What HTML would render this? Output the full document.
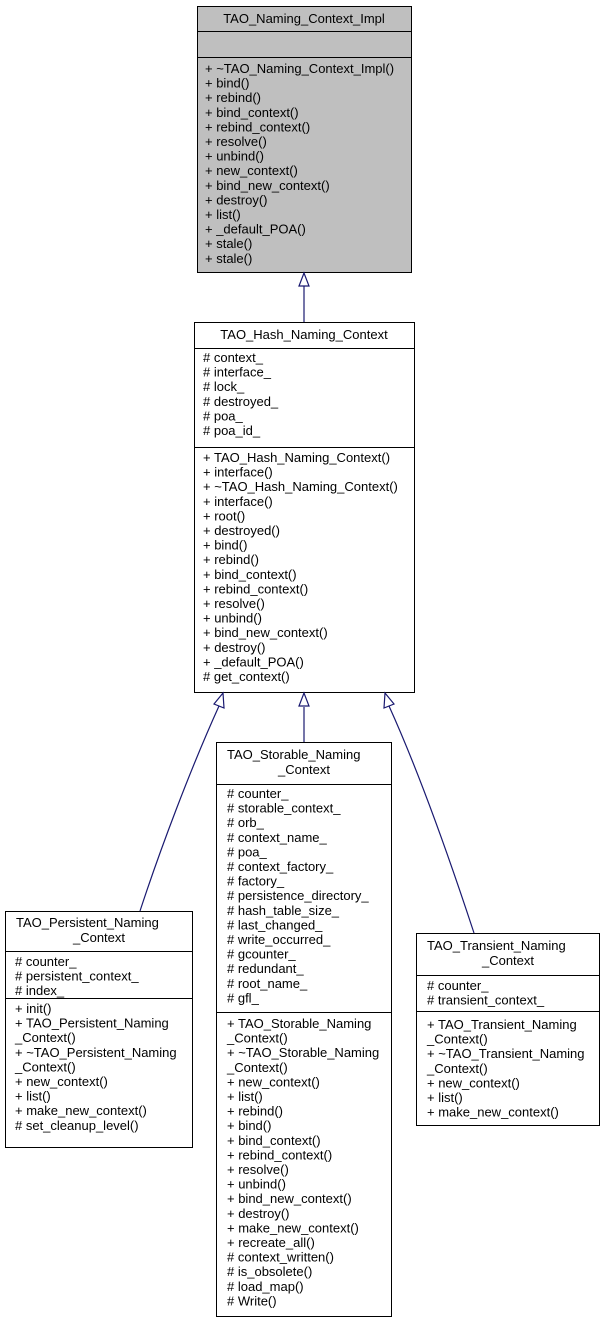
<!DOCTYPE html>
<html><head><meta charset="utf-8"><style>
html,body{margin:0;padding:0;background:#fff;}
svg text{font-family:"Liberation Sans",Arial,sans-serif;font-size:13px;fill:#000;}
</style></head><body>
<svg width="604" height="1323" viewBox="0 0 604 1323" xmlns="http://www.w3.org/2000/svg">
<g stroke="#000" stroke-width="1">
<rect x="197.5" y="6.5" width="214" height="266" fill="#bfbfbf"/>
<line x1="197.5" y1="31.5" x2="411.5" y2="31.5"/>
<line x1="197.5" y1="57.5" x2="411.5" y2="57.5"/>
<rect x="194.5" y="322.5" width="220" height="370" fill="#fff"/>
<line x1="194.5" y1="348.5" x2="414.5" y2="348.5"/>
<line x1="194.5" y1="447.5" x2="414.5" y2="447.5"/>
<rect x="216.5" y="742.5" width="175" height="574" fill="#fff"/>
<line x1="216.5" y1="784.5" x2="391.5" y2="784.5"/>
<line x1="216.5" y1="1012.5" x2="391.5" y2="1012.5"/>
<rect x="5.5" y="911.5" width="187" height="236" fill="#fff"/>
<line x1="5.5" y1="951.5" x2="192.5" y2="951.5"/>
<line x1="5.5" y1="998.5" x2="192.5" y2="998.5"/>
<rect x="416.5" y="933.5" width="183" height="192" fill="#fff"/>
<line x1="416.5" y1="975.5" x2="599.5" y2="975.5"/>
<line x1="416.5" y1="1011.5" x2="599.5" y2="1011.5"/>
</g>
<g stroke="#191970" stroke-width="1.2" fill="none">
<line x1="304" y1="286" x2="304" y2="322"/>
<line x1="304" y1="707" x2="304" y2="742"/>
<path d="M219,706 C190,770 160,850 140,911"/>
<path d="M389,706 C418,770 450,860 474,933"/>
</g>
<g stroke="#191970" stroke-width="1.2" fill="#fff">
<polygon points="304,273 299,286 309,286"/>
<polygon points="304,693 299,706 309,706"/>
<polygon points="223,693 214,704 224,708"/>
<polygon points="385,693 384,708 394,704"/>
</g>
<text x="304" y="23" text-anchor="middle">TAO_Naming_Context_Impl</text>
<g>
<text x="205" y="73">+ ~TAO_Naming_Context_Impl()</text>
<text x="205" y="87.6">+ bind()</text>
<text x="205" y="102.2">+ rebind()</text>
<text x="205" y="116.8">+ bind_context()</text>
<text x="205" y="131.4">+ rebind_context()</text>
<text x="205" y="146">+ resolve()</text>
<text x="205" y="160.6">+ unbind()</text>
<text x="205" y="175.2">+ new_context()</text>
<text x="205" y="189.8">+ bind_new_context()</text>
<text x="205" y="204.4">+ destroy()</text>
<text x="205" y="219">+ list()</text>
<text x="205" y="233.6">+ _default_POA()</text>
<text x="205" y="248.2">+ stale()</text>
<text x="205" y="262.8">+ stale()</text>
</g>
<text x="304" y="339" text-anchor="middle">TAO_Hash_Naming_Context</text>
<g>
<text x="203" y="362"># context_</text>
<text x="203" y="376.6"># interface_</text>
<text x="203" y="391.2"># lock_</text>
<text x="203" y="405.8"># destroyed_</text>
<text x="203" y="420.4"># poa_</text>
<text x="203" y="435"># poa_id_</text>
<text x="203" y="462">+ TAO_Hash_Naming_Context()</text>
<text x="203" y="476.6">+ interface()</text>
<text x="203" y="491.2">+ ~TAO_Hash_Naming_Context()</text>
<text x="203" y="505.8">+ interface()</text>
<text x="203" y="520.4">+ root()</text>
<text x="203" y="535">+ destroyed()</text>
<text x="203" y="549.6">+ bind()</text>
<text x="203" y="564.2">+ rebind()</text>
<text x="203" y="578.8">+ bind_context()</text>
<text x="203" y="593.4">+ rebind_context()</text>
<text x="203" y="608">+ resolve()</text>
<text x="203" y="622.6">+ unbind()</text>
<text x="203" y="637.2">+ bind_new_context()</text>
<text x="203" y="651.8">+ destroy()</text>
<text x="203" y="666.4">+ _default_POA()</text>
<text x="203" y="681"># get_context()</text>
</g>
<text x="227" y="759">TAO_Storable_Naming</text>
<text x="304" y="774" text-anchor="middle">_Context</text>
<g>
<text x="227" y="798"># counter_</text>
<text x="227" y="812.6"># storable_context_</text>
<text x="227" y="827.2"># orb_</text>
<text x="227" y="841.8"># context_name_</text>
<text x="227" y="856.4"># poa_</text>
<text x="227" y="871"># context_factory_</text>
<text x="227" y="885.6"># factory_</text>
<text x="227" y="900.2"># persistence_directory_</text>
<text x="227" y="914.8"># hash_table_size_</text>
<text x="227" y="929.4"># last_changed_</text>
<text x="227" y="944"># write_occurred_</text>
<text x="227" y="958.6"># gcounter_</text>
<text x="227" y="973.2"># redundant_</text>
<text x="227" y="987.8"># root_name_</text>
<text x="227" y="1002.4"># gfl_</text>
<text x="227" y="1028">+ TAO_Storable_Naming</text>
<text x="227" y="1042.6">_Context()</text>
<text x="227" y="1057.2">+ ~TAO_Storable_Naming</text>
<text x="227" y="1071.8">_Context()</text>
<text x="227" y="1086.4">+ new_context()</text>
<text x="227" y="1101">+ list()</text>
<text x="227" y="1115.6">+ rebind()</text>
<text x="227" y="1130.2">+ bind()</text>
<text x="227" y="1144.8">+ bind_context()</text>
<text x="227" y="1159.4">+ rebind_context()</text>
<text x="227" y="1174">+ resolve()</text>
<text x="227" y="1188.6">+ unbind()</text>
<text x="227" y="1203.2">+ bind_new_context()</text>
<text x="227" y="1217.8">+ destroy()</text>
<text x="227" y="1232.4">+ make_new_context()</text>
<text x="227" y="1247">+ recreate_all()</text>
<text x="227" y="1261.6"># context_written()</text>
<text x="227" y="1276.2"># is_obsolete()</text>
<text x="227" y="1290.8"># load_map()</text>
<text x="227" y="1305.4"># Write()</text>
</g>
<text x="16" y="927">TAO_Persistent_Naming</text>
<text x="99" y="942" text-anchor="middle">_Context</text>
<g>
<text x="15" y="966"># counter_</text>
<text x="15" y="980.6"># persistent_context_</text>
<text x="15" y="995.2"># index_</text>
<text x="15" y="1013">+ init()</text>
<text x="15" y="1027.6">+ TAO_Persistent_Naming</text>
<text x="15" y="1042.2">_Context()</text>
<text x="15" y="1056.8">+ ~TAO_Persistent_Naming</text>
<text x="15" y="1071.4">_Context()</text>
<text x="15" y="1086">+ new_context()</text>
<text x="15" y="1100.6">+ list()</text>
<text x="15" y="1115.2">+ make_new_context()</text>
<text x="15" y="1129.8"># set_cleanup_level()</text>
</g>
<text x="427" y="950">TAO_Transient_Naming</text>
<text x="508" y="965" text-anchor="middle">_Context</text>
<g>
<text x="427" y="990"># counter_</text>
<text x="427" y="1004.6"># transient_context_</text>
<text x="427" y="1029">+ TAO_Transient_Naming</text>
<text x="427" y="1043.6">_Context()</text>
<text x="427" y="1058.2">+ ~TAO_Transient_Naming</text>
<text x="427" y="1072.8">_Context()</text>
<text x="427" y="1087.4">+ new_context()</text>
<text x="427" y="1102">+ list()</text>
<text x="427" y="1116.6">+ make_new_context()</text>
</g>
</svg>
</body></html>
